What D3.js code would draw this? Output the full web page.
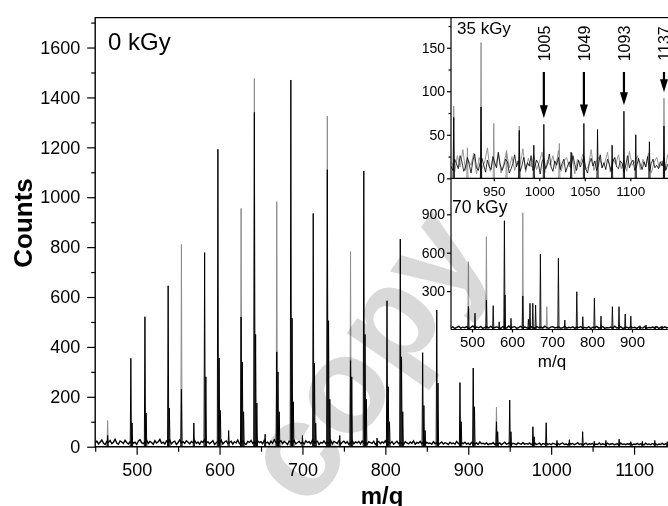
<!DOCTYPE html>
<html>
<head>
<meta charset="utf-8">
<script src="https://cdn.jsdelivr.net/npm/d3@7"></script>
<style>
  html, body { margin: 0; padding: 0; background: #fff; }
  svg { display: block; font-family: "Liberation Sans", Arial, sans-serif; }
</style>
</head>
<body>
<svg id="chart" width="668" height="506"></svg>
<script>
// ---- Main spectrum (0 kGy) ----
const mainXTicks = [500, 600, 700, 800, 900, 1000, 1100];
const mainYTicks = [0, 200, 400, 600, 800, 1000, 1200, 1400, 1600];

// [m/q, counts] — dark trace
const mainPeaksBlack = [
  [465, 45], [493, 354], [494.5, 95], [510, 521], [511.5, 135], [538, 645], [539.5, 155],
  [554, 230], [569, 95], [582, 778], [583.5, 280], [598, 1192], [599.5, 355], [601, 145],
  [611, 65], [626, 520], [627.5, 340], [629, 140], [642, 1340], [643.5, 450], [645, 175],
  [655, 50], [669, 380], [670.5, 300], [672, 140], [686, 1470], [687.5, 515], [689, 180],
  [700, 45], [713, 935], [714.5, 335], [716, 95], [730, 1110], [731.5, 505], [733, 190],
  [745, 45], [758, 345], [759.5, 280], [774, 1105], [775.5, 450], [777, 190], [790, 35],
  [802, 585], [803.5, 240], [805, 100], [818, 832], [819.5, 360], [821, 140], [845, 377],
  [846.5, 165], [848, 65], [862, 548], [863.5, 255], [890, 257], [891.5, 100], [906, 367],
  [907.5, 160], [934, 100], [935.5, 60], [950, 187], [951.5, 60], [978, 80], [979.5, 40],
  [994, 96], [1007, 25], [1022, 28], [1038, 60], [1052, 22], [1066, 25], [1082, 30],
  [1096, 20], [1110, 22], [1125, 25], [1140, 20]
];
// [m/q, counts] — light trace
const mainPeaksGray = [
  [465, 105], [554, 811], [626, 955], [642, 1476], [669, 982], [730, 1325], [758, 782], [934, 158]
];
// baseline counts sampled every 2 m/q from 450
const mainNoiseStart = 450, mainNoiseStep = 2;
const mainNoise = [
  16,22,11,19,27,14,9,21,17,25,12,18,30,15,10,23,19,13,26,17,
  11,20,24,14,18,9,22,28,16,12,19,25,13,21,17,10,24,15,20,29,
  14,18,11,23,16,26,12,19,22,9,17,27,15,20,13,24,18,11,21,16,
  25,13,19,10,22,17,28,14,20,12,18,24,9,16,21,15,26,11,19,23,
  13,17,22,10,20,15,27,12,18,24,14,9,21,17,25,13,19,11,23,16,
  20,12,26,15,18,10,22,14,28,17,11,19,24,13,21,16,9,23,18,14,
  25,11,17,21,13,19,10,24,16,20,12,27,15,18,22,9,17,14,23,12,
  19,15,26,11,21,17,13,24,10,18,22,14,20,9,16,25,12,19,15,21,
  11,23,14,18,10,20,16,13,22,9,17,21,12,19,15,24,11,17,13,20,
  10,16,22,12,18,14,9,20,15,11,19,13,23,10,17,14,21,12,16,9,
  18,13,15,10,20,12,17,8,14,19,11,16,13,9,18,12,15,10,21,13,
  9,16,12,18,10,14,8,17,13,11,15,9,19,12,14,10,16,8,13,11,
  17,9,14,11,15,8,13,18,10,12,16,9,14,11,8,15,12,10,17,9,
  13,10,15,8,12,16,9,11,14,7,13,10,15,9,12,8,14,11,9,13,
  8,12,15,9,11,7,14,10,13,8,11,16,9,12,7,10,14,8,12,10,
  13,7,11,9,15,8,12,10,7,14,9,11,13,8,10,12,7,15,9,11,
  8,12,10,14,7,11,9,13,8,12,10,7,14,9,11,8,13,10,12,7,
  11,9,14,8,12,10,7,13,9,11,8,12,10,14,9,11,8
];

// ---- Inset: 35 kGy ----
const ins35XTicks = [950, 1000, 1050, 1100];
const ins35YTicks = [0, 50, 100, 150];
const ins35PeaksBlack = [
  [906, 70], [936, 82], [978, 55], [994, 38], [1005, 62], [1035, 30], [1049, 63],
  [1064, 56], [1080, 38], [1093, 77], [1106, 50], [1121, 42], [1137, 60]
];
const ins35PeaksGray = [
  [906, 83], [921, 35], [936, 156], [950, 63], [964, 32], [978, 60], [1022, 40], [1137, 92]
];
const ins35NoiseBlackStart = 903, ins35NoiseBlackStep = 2;
const ins35NoiseBlack = [
  14,9,22,17,11,26,19,8,13,24,16,6,20,28,12,9,18,23,15,7,
  21,13,10,25,18,12,30,16,9,14, 22,19,6,11,17,27,13,20,8,15,
  24,10,18,14,26,9,12,21,17,5, 19,23,11,16,28,13,8,20,15,24,
  10,17,22,7,14,19,12,26,16,9, 21,13,18,25,11,6,17,23,14,20,
  9,15,27,12,18,10,22,16,8,19, 24,13,11,20,17,7,15,26,12,18,
  21,9,14,23,16,10,19,13,25,8, 17,22,12,15,11,19,14,24,9,16,12
];
const ins35NoiseGrayStart = 904, ins35NoiseGrayStep = 3;
const ins35NoiseGray = [
  18,7,26,13,33,9,21,15,29,5, 24,11,19,35,8,22,14,28,6,17,
  31,12,25,9,20,16,34,7,23,13, 27,10,18,30,6,21,15,26,11,32,
  8,19,24,13,29,5,22,17,28,10, 14,33,9,20,25,12,18,30,7,23,
  16,27,11,21,8,31,15,19,26,10, 22,13,29,6,18,24,12,20,9,27,15
];
const arrowLabels = [1005, 1049, 1093, 1137];

// ---- Inset: 70 kGy ----
const ins70XTicks = [500, 600, 700, 800, 900];
const ins70YTicks = [300, 600, 900];
const ins70PeaksBlack = [
  [491, 180], [507.5, 127], [536, 230], [553, 186], [568, 60], [581, 850], [582.5, 270],
  [597.5, 87], [627, 262], [641, 80], [645, 205], [652, 205], [659, 191], [671, 590],
  [716, 556], [732, 74], [762, 295], [777, 100], [806, 244], [822.5, 105], [851, 178],
  [867.5, 178], [883, 121], [897, 105], [920, 30], [935, 35], [958, 25], [975, 28]
];
const ins70PeaksGray = [
  [491, 530], [536, 725], [627, 912], [687, 178]
];
const ins70NoiseStart = 447, ins70NoiseStep = 5;
const ins70Noise = [
  12,20,8,16,25,10,18,14,22,9, 15,27,11,19,13,24,8,17,21,12,
  26,10,16,20,14,9,23,15,11,28, 13,18,22,9,16,25,12,19,14,10,
  21,17,8,24,13,19,11,26,15,9, 18,22,12,16,20,10,14,25,11,17,
  13,21,9,19,15,23,10,16,12,20, 8,18,14,24,11,17,22,9,15,13,
  19,10,26,12,16,21,8,14,18,11, 23,13,17,9,20,15,12,24,10,16,
  14,19,11,22,8,17,13,21,12,18
];

const svg = d3.select("#chart");
const W = 668;

// spikes drawn as narrow triangles rising from zero
function spikePath(peaks, x, y) {
  const p = d3.path();
  peaks.forEach(([m, h]) => {
    p.moveTo(x(m) - 0.6, y(0));
    p.lineTo(x(m), y(h));
    p.lineTo(x(m) + 0.6, y(0));
  });
  return p.toString();
}
function noisePath(vals, start, step, x, y) {
  return d3.line().x((v, i) => x(start + i * step)).y(v => y(v))(vals);
}
function styleAxis(g, size) {
  g.select(".domain").remove();
  g.selectAll("line").attr("stroke", "#000").attr("stroke-width", 1.2);
  g.selectAll("text").attr("font-size", size).attr("fill", "#000")
    .attr("font-family", "'Liberation Sans', Arial, sans-serif");
}

// ---------- main plot ----------
const x = d3.scaleLinear().domain([450, 1160]).range([95.2, 683.8]);
const y = d3.scaleLinear().domain([0, 1720]).range([446.7, 17.6]);

const defs = svg.append("defs");
defs.append("clipPath").attr("id", "clipMain")
  .append("rect").attr("x", 95.2).attr("y", 17).attr("width", W - 95).attr("height", 430);

const mainData = svg.append("g").attr("clip-path", "url(#clipMain)");
mainData.append("path").attr("d", spikePath(mainPeaksGray, x, y))
  .attr("fill", "none").attr("stroke", "#8c8c8c").attr("stroke-width", 1);
mainData.append("path").attr("d", noisePath(mainNoise, mainNoiseStart, mainNoiseStep, x, y))
  .attr("fill", "none").attr("stroke", "#000").attr("stroke-width", 1.4);
mainData.append("path").attr("d", spikePath(mainPeaksBlack, x, y))
  .attr("fill", "none").attr("stroke", "#000").attr("stroke-width", 1);

// axes
const xMinor = d3.range(450, 1160, 50).filter(v => !mainXTicks.includes(v));
const yMinor = d3.range(100, 1720, 200);
svg.append("g").attr("transform", "translate(0,446.7)")
  .call(d3.axisBottom(x).tickValues(xMinor).tickSize(5).tickFormat(""))
  .call(g => styleAxis(g, 18));
svg.append("g").attr("transform", "translate(0,446.7)")
  .call(d3.axisBottom(x).tickValues(mainXTicks).tickSize(8).tickPadding(8.5).tickFormat(d3.format("d")))
  .call(g => styleAxis(g, 18));
svg.append("g").attr("transform", "translate(95.2,0)")
  .call(d3.axisLeft(y).tickValues(yMinor).tickSize(4).tickFormat(""))
  .call(g => styleAxis(g, 18));
svg.append("g").attr("transform", "translate(95.2,0)")
  .call(d3.axisLeft(y).tickValues(mainYTicks).tickSize(8).tickPadding(7).tickFormat(d3.format("d")))
  .call(g => styleAxis(g, 18));

// frame
svg.append("path")
  .attr("d", `M${W + 2},${y(1720)}H${x(450)}V${y(0)}H${W + 2}`)
  .attr("fill", "none").attr("stroke", "#000").attr("stroke-width", 1.4);

svg.append("text").attr("x", 108).attr("y", 50).attr("font-size", 24).text("0 kGy");
svg.append("text").attr("transform", "translate(32,223) rotate(-90)")
  .attr("text-anchor", "middle").attr("font-size", 26).attr("font-weight", "bold").text("Counts");
svg.append("text").attr("x", 382).attr("y", 504).attr("text-anchor", "middle")
  .attr("font-size", 24).attr("font-weight", "bold").text("m/q");

// ---------- insets ----------
svg.append("rect").attr("x", 440).attr("y", y(1720) + 1).attr("width", W - 440).attr("height", 368 - y(1720) - 1)
  .attr("fill", "#fff");

// 35 kGy
const x35 = d3.scaleLinear().domain([903, 1143.5]).range([451, 669.9]);
const y35 = d3.scaleLinear().domain([0, 185]).range([178.3, 17.3]);
defs.append("clipPath").attr("id", "clip35")
  .append("rect").attr("x", 451).attr("y", 17.6).attr("width", W - 451).attr("height", 178.3 - 17.6);
const g35 = svg.append("g").attr("clip-path", "url(#clip35)");
g35.append("path").attr("d", noisePath(ins35NoiseGray, ins35NoiseGrayStart, ins35NoiseGrayStep, x35, y35))
  .attr("fill", "none").attr("stroke", "#8c8c8c").attr("stroke-width", 0.9);
g35.append("path").attr("d", spikePath(ins35PeaksGray, x35, y35))
  .attr("fill", "none").attr("stroke", "#8c8c8c").attr("stroke-width", 0.9);
g35.append("path").attr("d", noisePath(ins35NoiseBlack, ins35NoiseBlackStart, ins35NoiseBlackStep, x35, y35))
  .attr("fill", "none").attr("stroke", "#000").attr("stroke-width", 0.8);
g35.append("path").attr("d", spikePath(ins35PeaksBlack, x35, y35))
  .attr("fill", "none").attr("stroke", "#000").attr("stroke-width", 0.9);

svg.append("g").attr("transform", "translate(451,0)")
  .call(d3.axisLeft(y35).tickValues([25, 75, 125, 175]).tickSize(2.5).tickFormat(""))
  .call(g => styleAxis(g, 14));
svg.append("g").attr("transform", "translate(451,0)")
  .call(d3.axisLeft(y35).tickValues(ins35YTicks).tickSize(4).tickPadding(2).tickFormat(d3.format("d")))
  .call(g => styleAxis(g, 14));
svg.append("g").attr("transform", "translate(0,178.3)")
  .call(d3.axisBottom(x35).tickValues(ins35XTicks).tickSize(3).tickPadding(5).tickFormat(d3.format("d")))
  .call(g => styleAxis(g, 13.5));
svg.append("line").attr("x1", 451).attr("x2", W + 2).attr("y1", 178.3).attr("y2", 178.3)
  .attr("stroke", "#000").attr("stroke-width", 1.2);
svg.append("text").attr("x", 457).attr("y", 33.5).attr("font-size", 17).text("35 kGy");

// arrows marking the labelled peaks
const allPeaks35 = ins35PeaksBlack.concat(ins35PeaksGray);
arrowLabels.forEach(v => {
  const h = d3.max(allPeaks35.filter(p => Math.abs(p[0] - v) < 1.5), p => p[1]);
  const ax = x35(v), tip = y35(h) - 6;
  const ga = svg.append("g");
  ga.append("line").attr("x1", ax).attr("x2", ax).attr("y1", 72).attr("y2", tip - 10)
    .attr("stroke", "#000").attr("stroke-width", 2.2);
  ga.append("path").attr("d", `M${ax - 4},${tip - 13}L${ax + 4},${tip - 13}L${ax},${tip}Z`).attr("fill", "#000");
  ga.append("text").attr("transform", `translate(${ax + 6},43.5) rotate(-90)`)
    .attr("text-anchor", "middle").attr("font-size", 16).text(v);
});

// 70 kGy
const x70 = d3.scaleLinear().domain([447.5, 1000]).range([451, 672]);
const y70 = d3.scaleLinear().domain([0, 1050]).range([329.5, 195.1]);
defs.append("clipPath").attr("id", "clip70")
  .append("rect").attr("x", 451).attr("y", 195).attr("width", W - 451).attr("height", 329.5 - 195 + 1);
const g70 = svg.append("g").attr("clip-path", "url(#clip70)");
g70.append("path").attr("d", spikePath(ins70PeaksGray, x70, y70))
  .attr("fill", "none").attr("stroke", "#8c8c8c").attr("stroke-width", 0.9);
g70.append("path").attr("d", noisePath(ins70Noise, ins70NoiseStart, ins70NoiseStep, x70, y70))
  .attr("fill", "none").attr("stroke", "#000").attr("stroke-width", 1.4);
g70.append("path").attr("d", spikePath(ins70PeaksBlack, x70, y70))
  .attr("fill", "none").attr("stroke", "#000").attr("stroke-width", 0.9);

svg.append("g").attr("transform", "translate(451,0)")
  .call(d3.axisLeft(y70).tickValues(ins70YTicks).tickSize(4).tickPadding(2).tickFormat(d3.format("d")))
  .call(g => styleAxis(g, 14));
svg.append("g").attr("transform", "translate(0,329.5)")
  .call(d3.axisBottom(x70).tickValues(ins70XTicks).tickSize(3).tickPadding(4).tickFormat(d3.format("d")))
  .call(g => styleAxis(g, 15));
svg.append("line").attr("x1", 451).attr("x2", W + 2).attr("y1", 329.5).attr("y2", 329.5)
  .attr("stroke", "#000").attr("stroke-width", 1.2);
svg.append("line").attr("x1", 451).attr("x2", 451).attr("y1", 17.6).attr("y2", 329.5)
  .attr("stroke", "#000").attr("stroke-width", 1.2);
svg.append("text").attr("x", 452).attr("y", 213).attr("font-size", 17.5).text("70 kGy");
svg.append("text").attr("x", 552).attr("y", 367).attr("text-anchor", "middle").attr("font-size", 17).text("m/q");

// watermark
svg.append("text").attr("transform", "translate(371,361) rotate(-55)")
  .attr("x", 0).attr("y", 36).attr("text-anchor", "middle")
  .attr("font-size", 136).attr("font-weight", "bold").attr("fill", "#d9d9d9")
  .style("mix-blend-mode", "multiply").text("copy");
</script>
</body>
</html>
